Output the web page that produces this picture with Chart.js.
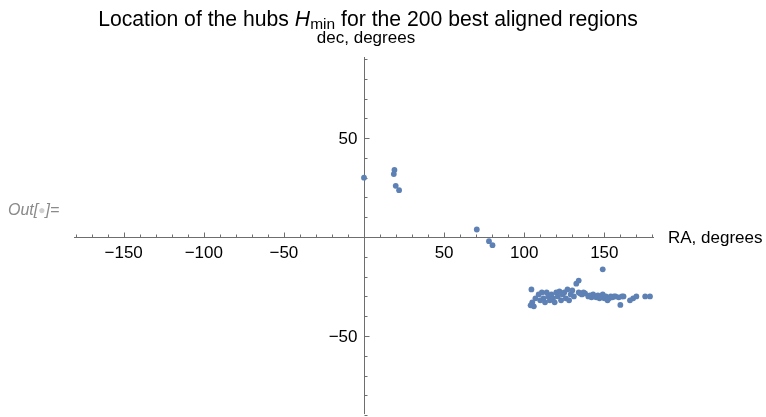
<!DOCTYPE html>
<html>
<head>
<meta charset="utf-8">
<script src="https://cdn.jsdelivr.net/npm/chart.js@4.4.0/dist/chart.umd.min.js"></script>
<style>
body { margin: 0; background: #fff; }
#wrap { position: relative; width: 766px; height: 417px; overflow: hidden; font-family: "Liberation Sans", Arial, sans-serif; }
#myChart { position: absolute; left: 0; top: 0; }
.lbl { position: absolute; white-space: nowrap; color: #000; line-height: normal; }
#title { left: 0; width: 736px; top: 7px; text-align: center; font-size: 21.2px; }
#title sub { font-size: 15.5px; vertical-align: -3px; line-height: 0; }
#ylab { left: 0; width: 732px; top: 28px; text-align: center; font-size: 17px; }
#xlab { left: 668px; top: 228px; font-size: 17px; }
#out { left: 8px; top: 201px; font-size: 16px; font-style: italic; color: #8a8a8a; }
#out span { color: #cfcfcf; font-style: normal; font-size: 12px; vertical-align: 1px; }
</style>
</head>
<body>
<div id="wrap">
  <canvas id="myChart" width="766" height="417"></canvas>
  <div class="lbl" id="title">Location of the hubs <i>H</i><sub>min</sub> for the 200 best aligned regions</div>
  <div class="lbl" id="ylab">dec, degrees</div>
  <div class="lbl" id="xlab">RA, degrees</div>
  <div class="lbl" id="out">Out[<span>&#9679;</span>]=</div>
</div>
<script>
// hub positions: right ascension and declination, degrees
const ra_values = [
  0, 19, 18.6, 19.8, 21.9, 70.4, 78, 80.2,
  104.5, 104, 105, 106, 107, 109, 110, 111, 112, 113, 114, 115, 116, 117,
  118, 119, 120, 121, 122, 123, 124, 125, 126, 127, 128, 129, 130, 131,
  132.5, 134, 134, 135, 136, 137, 138, 140, 141, 142, 143, 144, 145, 146,
  147, 148, 149, 149, 150, 151, 152, 153, 154, 155, 156, 157, 159, 160,
  161, 162, 166, 168, 170, 175.5, 178.5
];
const dec_values = [
  30, 33.9, 31.8, 25.9, 23.7, 3.8, -2.1, -4.1,
  -26.5, -34.5, -33, -35, -31, -29, -32, -28, -31, -33, -28, -30, -32, -29,
  -31, -33, -28, -30, -27.5, -32, -29, -28, -31, -26.5, -32, -29, -27, -30,
  -23.6, -22, -28, -28.5, -29, -28, -28.5, -30, -29.5, -30.5, -29, -30, -30.5, -29.5,
  -31, -30, -16.3, -29, -31, -30, -32, -31, -30, -30.5, -30, -30, -30.5, -34.3,
  -30, -30, -32, -31, -30, -30, -30
];

const x_ticks = [-150, -100, -50, 50, 100, 150];
const y_ticks = [-50, 50];
const x_minor_step = 10;
const y_minor_step = 10;

const points = ra_values.map((ra, i) => ({ x: ra, y: dec_values[i] }));

// axes through the origin, Mathematica style
const originAxes = {
  id: 'originAxes',
  beforeDatasetsDraw(chart) {
    const ctx = chart.ctx;
    const area = chart.chartArea;
    const xs = chart.scales.x;
    const ys = chart.scales.y;
    const x0 = Math.round(xs.getPixelForValue(0)) + 0.5;
    const y0 = Math.round(ys.getPixelForValue(0)) + 0.5;

    ctx.save();
    ctx.strokeStyle = '#6e6e6e';
    ctx.lineWidth = 1;
    ctx.beginPath();
    ctx.moveTo(area.left, y0);
    ctx.lineTo(area.right, y0);
    ctx.moveTo(x0, area.top);
    ctx.lineTo(x0, area.bottom);

    // x ticks point up
    for (let v = -180; v <= 180; v += x_minor_step) {
      const px = Math.round(xs.getPixelForValue(v)) + 0.5;
      const len = v % 50 === 0 ? 5 : 3;
      ctx.moveTo(px, y0);
      ctx.lineTo(px, y0 - len);
    }
    // y ticks point right
    for (let v = -90; v <= 90; v += y_minor_step) {
      const py = Math.round(ys.getPixelForValue(v)) + 0.5;
      const len = v % 50 === 0 ? 5 : 3;
      ctx.moveTo(x0, py);
      ctx.lineTo(x0 + len, py);
    }
    ctx.stroke();

    ctx.fillStyle = '#000';
    ctx.font = '17px "Liberation Sans", Arial, sans-serif';
    ctx.textAlign = 'center';
    ctx.textBaseline = 'alphabetic';
    x_ticks.forEach(v => {
      const txt = v < 0 ? '\u2212' + Math.abs(v) : String(v);
      ctx.fillText(txt, xs.getPixelForValue(v), y0 + 20);
    });
    ctx.textAlign = 'right';
    y_ticks.forEach(v => {
      const txt = v < 0 ? '\u2212' + Math.abs(v) : String(v);
      ctx.fillText(txt, x0 - 7, ys.getPixelForValue(v) + 6);
    });
    ctx.restore();
  }
};

const ctx = document.getElementById('myChart').getContext('2d');
const myChart = new Chart(ctx, {
  type: 'scatter',
  data: {
    datasets: [{
      data: points,
      backgroundColor: '#5e81b5',
      borderWidth: 0,
      pointRadius: 2.9,
      pointHoverRadius: 2.9
    }]
  },
  options: {
    responsive: false,
    animation: false,
    events: [],
    layout: { padding: { left: 74, right: 112, top: 57, bottom: 0 } },
    scales: {
      x: { type: 'linear', min: -181, max: 181, display: false },
      y: { type: 'linear', min: -89.5, max: 91, display: false }
    },
    plugins: {
      legend: { display: false },
      tooltip: { enabled: false },
      title: { display: false }
    }
  },
  plugins: [originAxes]
});
</script>
</body>
</html>
